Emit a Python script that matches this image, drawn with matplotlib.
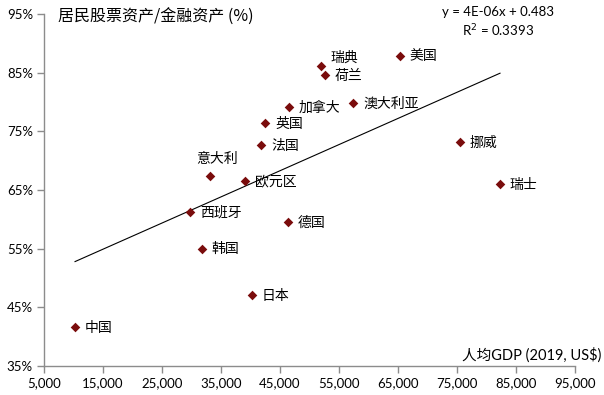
import numpy as np
import matplotlib
matplotlib.use("Agg")
import matplotlib.pyplot as plt
from matplotlib.ticker import FuncFormatter

plt.rcParams['font.family'] = ['Lato', 'Noto Sans CJK SC', 'DejaVu Sans']

countries = ['中国', '西班牙', '韩国', '日本', '德国', '意大利', '欧元区', '法国',
             '英国', '加拿大', '瑞典', '荷兰', '澳大利亚', '美国', '挪威', '瑞士']
gdp_pc = [10260, 29750, 31720, 40300, 46400, 33190, 39070, 41830,
          42510, 46470, 51950, 52630, 57420, 65290, 75510, 82290]
equity_share = [41.6, 61.3, 55.0, 47.1, 59.6, 67.4, 66.6, 72.6,
                76.4, 79.2, 86.2, 84.6, 79.8, 87.9, 73.1, 66.0]

x_ticks = list(range(5000, 95001, 10000))
y_ticks = [35, 45, 55, 65, 75, 85, 95]

title_text = '居民股票资产/金融资产 (%)'
xlabel_text = '人均GDP (2019, US$)'
eq_text = 'y = 4E-06x + 0.483'
r2_text = 'R$^2$ = 0.3393'

fig = plt.figure(figsize=(6.04, 3.95), dpi=100)
ax = fig.add_axes([44/604, 29/395, 531/604, 352/395])

x = np.array(gdp_pc, dtype=float)
y = np.array(equity_share, dtype=float)

slope, intercept = np.polyfit(x, y, 1)
xl = np.array([x.min(), x.max()])
ax.plot(xl, slope * xl + intercept, color='black', lw=0.8, zorder=1)

ax.scatter(x, y, marker='D', s=24, color='#7a0c0c', zorder=3, linewidths=0)

cjk = ['Noto Sans CJK SC', 'DejaVu Sans']
for name, xi, yi in zip(countries, x, y):
    if name == '意大利':
        ax.annotate(name, (xi, yi), xytext=(5, 12), textcoords='offset points',
                    ha='center', va='center', fontsize=10, family=cjk)
    elif name == '瑞典':
        ax.annotate(name, (xi, yi), xytext=(6.5, 6), textcoords='offset points',
                    ha='left', va='center', fontsize=10, family=cjk)
    else:
        ax.annotate(name, (xi, yi), xytext=(7, -0.5), textcoords='offset points',
                    ha='left', va='center', fontsize=10, family=cjk)

ax.set_xlim(5000, 95000)
ax.set_ylim(35, 95)
ax.set_xticks(x_ticks)
ax.set_yticks(y_ticks)
ax.xaxis.set_major_formatter(FuncFormatter(lambda v, p: f'{int(v):,}'))
ax.yaxis.set_major_formatter(FuncFormatter(lambda v, p: f'{int(v)}%'))

for s in ['top', 'right']:
    ax.spines[s].set_visible(False)
for s in ['left', 'bottom']:
    ax.spines[s].set_color('#8c8c8c')
    ax.spines[s].set_linewidth(1.0)
ax.tick_params(axis='both', colors='#8c8c8c', length=5, width=1.0,
               labelcolor='black', labelsize=9.5)
ax.tick_params(axis='x', pad=3)
ax.tick_params(axis='y', pad=3)

fig.text(58/604, 1 - 17/395, title_text, ha='left', va='center', fontsize=11.5, family=cjk)
fig.text(601/604, 1 - 355/395, xlabel_text, ha='right', va='center', fontsize=10.5,
         family=['Lato', 'Noto Sans CJK SC', 'DejaVu Sans'])
fig.text(498/604, 1 - 12/395, eq_text, ha='center', va='center', fontsize=9.5)
fig.text(498/604, 1 - 31/395, r2_text, ha='center', va='center', fontsize=9.5)

fig.savefig('out.png', dpi=100)
